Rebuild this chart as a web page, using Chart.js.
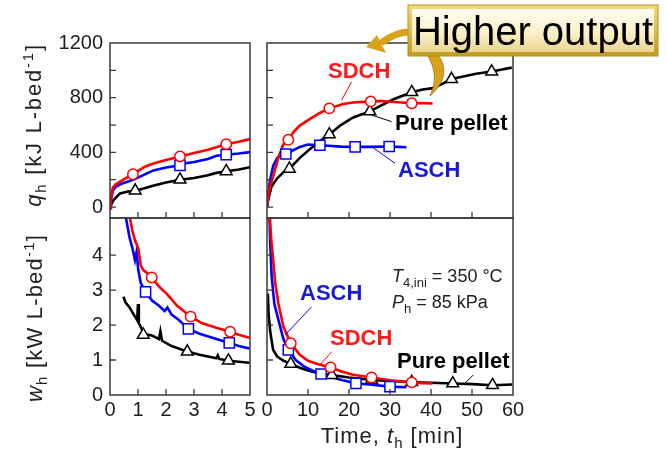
<!DOCTYPE html>
<html><head><meta charset="utf-8">
<script src="https://cdn.jsdelivr.net/npm/chart.js@4.4.1/dist/chart.umd.min.js"></script>
<style>
html,body{margin:0;padding:0;background:#fff;}
#wrap{position:relative;width:667px;height:452px;overflow:hidden;background:#fff;}
canvas{position:absolute;left:0;top:0;}
svg{position:absolute;left:0;top:0;}
</style></head><body>
<div id="wrap">
<canvas id="cTL" width="667" height="452"></canvas>
<canvas id="cTR" width="667" height="452"></canvas>
<canvas id="cBL" width="667" height="452"></canvas>
<canvas id="cBR" width="667" height="452"></canvas>
<svg id="ov" width="667" height="452" font-family="Liberation Sans, Arial, sans-serif">
  <defs>
    <linearGradient id="gOut" x1="0" y1="0" x2="0" y2="1">
      <stop offset="0" stop-color="#F6DC7A"/><stop offset="1" stop-color="#C29A22"/>
    </linearGradient>
    <linearGradient id="gIn" x1="0" y1="0" x2="0" y2="1">
      <stop offset="0" stop-color="#FFFEF4"/><stop offset="0.55" stop-color="#FBF1C8"/><stop offset="1" stop-color="#E9D590"/>
    </linearGradient>
  </defs>
  <!-- leader lines -->
  <line x1="351.7" y1="81.7" x2="341.7" y2="100" stroke="#ff0000" stroke-width="1"/>
  <line x1="391.7" y1="121.7" x2="371.7" y2="115" stroke="#000" stroke-width="1"/>
  <line x1="395" y1="163.3" x2="371.7" y2="146.7" stroke="#0000ff" stroke-width="1"/>
  <line x1="311.7" y1="306.7" x2="285" y2="335" stroke="#0000ff" stroke-width="1"/>
  <line x1="331.7" y1="351.7" x2="320" y2="365" stroke="#ff0000" stroke-width="1"/>
  <line x1="473.3" y1="375" x2="465" y2="383.3" stroke="#000" stroke-width="1"/>
  <!-- series labels -->
  <g font-weight="bold" font-size="22">
    <text x="328" y="78" fill="#ff1a1a">SDCH</text>
    <text x="395" y="130" fill="#000">Pure pellet</text>
    <text x="398" y="177" fill="#1a1ad6">ASCH</text>
    <text x="300" y="300" fill="#1a1ad6">ASCH</text>
    <text x="330" y="345" fill="#ff1a1a">SDCH</text>
    <text x="397" y="368" fill="#000">Pure pellet</text>
  </g>
  <!-- conditions -->
  <text x="392" y="282" font-size="18" fill="#222"><tspan font-style="italic">T</tspan><tspan font-size="13" dy="5">4,ini</tspan><tspan dy="-5"> = 350 °C</tspan></text>
  <text x="392" y="308" font-size="18" fill="#222"><tspan font-style="italic">P</tspan><tspan font-size="13" dy="5">h</tspan><tspan dy="-5"> = 85 kPa</tspan></text>
  <!-- axis titles -->
  <text transform="translate(41,125) rotate(-90)" text-anchor="middle" font-size="22" letter-spacing="1.8" fill="#222"><tspan font-style="italic">q</tspan><tspan font-size="15" dy="5">h</tspan><tspan dy="-5"> [kJ L-bed</tspan><tspan font-size="15" dy="-8">-1</tspan><tspan dy="8">]</tspan></text>
  <text transform="translate(42,318) rotate(-90)" text-anchor="middle" font-size="22" letter-spacing="1.2" fill="#222"><tspan font-style="italic">w</tspan><tspan font-size="15" dy="5">h</tspan><tspan dy="-5"> [kW L-bed</tspan><tspan font-size="15" dy="-8">-1</tspan><tspan dy="8">]</tspan></text>
  <text x="392" y="443" text-anchor="middle" font-size="22" letter-spacing="1" fill="#222">Time, <tspan font-style="italic">t</tspan><tspan font-size="15" dy="5">h</tspan><tspan dy="-5"> [min]</tspan></text>
  <!-- arrows -->
  <path d="M 409 32 Q 396 32 381 43" stroke="#D9A21B" stroke-width="7" fill="none"/>
  <polygon points="366,47 377,35 386,53" fill="#D9A21B"/>
  <path d="M 428 56 L 439 56 Q 452 76 430 96 Q 440 76 428 56 Z" fill="#D9A21B" stroke="#9a7410" stroke-width="0.8"/>
  <!-- callout box -->
  <rect x="408" y="5" width="250" height="51" fill="url(#gOut)" stroke="#B8901E" stroke-width="1"/>
  <rect x="412" y="9" width="242" height="43" fill="url(#gIn)"/>
  <text x="533" y="45" text-anchor="middle" font-size="40" fill="#000">Higher output</text>
</svg>
</div>
<script>
// ---- tick labels / tick marks ----
const tShortTicks = [0, 1, 2, 3, 4, 5];
const tLongTicks = [0, 10, 20, 30, 40, 50, 60];
const qTicks = [0, 400, 800, 1200];
const wTicks = [0, 1, 2, 3, 4];
const qMinor = [0, 200, 400, 600, 800, 1000];
const wMinor = [1, 2, 3, 4];
const tShortMinor = [1, 2, 3, 4];
const tLongMinor = [10, 20, 30, 40, 50];

// ---- heat output q_h [kJ/L-bed], first 5 min ----
const sdchQShort = [[0,-10],[0.03,60],[0.1,140],[0.2,165],[0.35,185],[0.55,210],[0.82,240],[1.0,265],[1.25,295],[1.55,318],[2.0,345],[2.5,370],[3.0,395],[3.5,420],[4.15,460],[4.6,478],[5.0,497]];
const aschQShort = [[0,-5],[0.03,50],[0.1,120],[0.2,148],[0.4,170],[0.6,184],[0.82,200],[1.0,215],[1.3,245],[1.55,268],[2.0,290],[2.5,305],[2.7,320],[3.0,330],[3.5,352],[3.8,375],[4.15,383],[4.6,392],[5.0,402]];
const pureQShort = [[0,0],[0.12,50],[0.36,100],[0.6,112],[0.9,120],[1.2,135],[1.6,160],[2.0,180],[2.5,200],[3.0,212],[3.5,232],[3.8,250],[4.15,262],[4.6,275],[5.0,291]];
const sdchQShortMk = [[0.82,240],[2.5,370],[4.15,460]];
const aschQShortMk = [[2.5,305],[4.15,383]];
const pureQShortMk = [[0.9,120],[2.5,200],[4.15,262]];

// ---- heat output q_h, full run ----
const sdchQLong = [[0,0],[0.3,80],[0.7,150],[1.5,225],[2.8,365],[4.0,460],[5.2,492],[6.5,550],[8,596],[10.5,645],[13,690],[15.2,722],[18.6,754],[21,765],[25.3,773],[28,776],[31,768],[35.3,759],[38,760],[40.4,757]];
const aschQLong = [[0,0],[0.3,90],[0.7,190],[1.5,300],[2.5,360],[3.5,380],[4.6,388],[6,410],[8,440],[10,458],[12.9,452],[15,448],[18,442],[21.5,440],[25,440],[29.8,443],[32,440],[34,438]];
const pureQLong = [[0,0],[0.3,55],[1.1,150],[2.5,210],[4,255],[5.45,280],[8,360],[10.5,425],[13,485],[15.2,531],[18,600],[21,655],[25.1,700],[28,745],[31,790],[35.3,840],[38,860],[40.5,870],[43,905],[45,936],[48.7,960],[51,975],[54.8,991],[57,1005],[59.7,1020]];
const sdchQLongMk = [[5.2,492],[15.2,722],[25.3,773],[35.3,759]];
const aschQLongMk = [[4.6,388],[12.9,452],[21.5,440],[29.8,443]];
const pureQLongMk = [[5.45,280],[15.2,531],[25.1,700],[35.3,840],[45,936],[54.8,991]];

// ---- heat output rate w_h [kW/L-bed], first 5 min ----
const sdchWShort = [[0.71,5.06],[0.8,4.7],[0.9,4.4],[1.01,4.19],[1.1,3.7],[1.19,3.57],[1.3,3.5],[1.49,3.36],[1.75,3.1],[2.02,2.9],[2.4,2.55],[2.88,2.24],[3.3,2.05],[3.8,1.92],[4.29,1.81],[4.6,1.72],[4.98,1.64]];
const aschWShort = [[0.57,5.06],[0.7,4.5],[0.8,4.2],[0.89,3.86],[0.95,4.1],[1.01,3.57],[1.1,3.2],[1.27,2.95],[1.5,2.7],[1.75,2.55],[1.95,2.4],[2.05,2.5],[2.2,2.3],[2.45,2.15],[2.8,1.89],[3.2,1.75],[3.6,1.65],[4.0,1.55],[4.26,1.49],[4.6,1.4],[4.98,1.33]];
const pureWShort = [[0.48,2.81],[0.55,2.65],[0.7,2.5],[0.85,2.3],[0.97,2.14],[1.0,2.6],[1.03,2.05],[1.13,1.9],[1.19,1.75],[1.5,1.7],[1.75,1.6],[1.8,1.82],[1.86,1.55],[2.2,1.4],[2.76,1.24],[3.2,1.15],[3.8,1.05],[3.85,1.13],[3.9,1.03],[4.23,0.98],[4.6,0.95],[4.98,0.92]];
const sdchWShortMk = [[1.49,3.36],[2.88,2.24],[4.29,1.81]];
const aschWShortMk = [[1.27,2.95],[2.8,1.89],[4.26,1.49]];
const pureWShortMk = [[1.19,1.72],[2.76,1.24],[4.23,0.98]];

// ---- heat output rate w_h, full run ----
const sdchWLong = [[0.73,5.06],[1.0,4.5],[1.5,3.86],[2.0,3.2],[2.8,2.6],[4,1.95],[5.8,1.48],[8,1.15],[10,0.98],[12.5,0.88],[15.5,0.79],[18,0.68],[21,0.58],[25.5,0.5],[30,0.42],[35.3,0.36],[38,0.34],[40.4,0.33]];
const aschWLong = [[0.6,5.06],[0.8,4.3],[1.14,3.38],[1.8,2.6],[2.8,2.14],[4,1.6],[5.2,1.29],[7,1.0],[9,0.82],[11,0.7],[13.2,0.6],[16,0.5],[18.5,0.42],[21.7,0.33],[25,0.3],[30,0.24],[34,0.22]];
const pureWLong = [[0,2.5],[0.2,2.9],[0.4,2.3],[0.8,1.8],[1.5,1.29],[2.5,1.1],[4,0.98],[5.8,0.89],[8,0.78],[10,0.7],[12.5,0.62],[15.8,0.57],[20,0.5],[25.5,0.43],[30,0.4],[35,0.37],[40,0.35],[45.3,0.33],[50,0.31],[55,0.28],[59.8,0.3]];
const sdchWLongMk = [[5.8,1.48],[15.5,0.79],[25.5,0.5],[35.3,0.36]];
const aschWLongMk = [[5.2,1.29],[13.2,0.6],[21.7,0.33],[30,0.24]];
const pureWLongMk = [[5.8,0.89],[15.8,0.57],[25.5,0.43],[35.3,0.37],[45.3,0.33],[55,0.28]];

const RED = '#ff0000', BLUE = '#0000ff', BLACK = '#000000';
const FONT = 'Liberation Sans, Arial, sans-serif';
const W = 667, H = 452;

const framePlugin = {
  id: 'frame',
  afterDatasetsDraw(chart, args, o) {
    const {ctx, chartArea: a, scales} = chart;
    ctx.save();
    ctx.strokeStyle = '#3a3a3a';
    ctx.lineWidth = 1.5;
    ctx.strokeRect(a.left, a.top, a.right - a.left, a.bottom - a.top);
    ctx.lineWidth = 1.3;
    ctx.beginPath();
    (o.xIn || []).forEach(v => { const x = scales.x.getPixelForValue(v); ctx.moveTo(x, a.bottom); ctx.lineTo(x, a.bottom - 6); });
    (o.yIn || []).forEach(v => { const y = scales.y.getPixelForValue(v); ctx.moveTo(a.left, y); ctx.lineTo(a.left + 6, y); });
    ctx.stroke();
    ctx.restore();
  }
};

function pts(arr) { return arr.map(([x, y]) => ({x, y})); }
function lineDs(arr, color) {
  return {data: pts(arr), showLine: true, borderColor: color, borderWidth: 2.6, pointRadius: 0, fill: false, tension: 0};
}
function mkDs(arr, color, style) {
  const r = style === 'circle' ? 5.2 : (style === 'rect' ? 7.2 : 6.8);
  return {data: pts(arr), showLine: false, pointStyle: style, pointRadius: r, pointBorderWidth: 1.5,
    borderColor: color, backgroundColor: '#ffffff', pointBackgroundColor: '#ffffff', pointBorderColor: color};
}

function panel(id, area, xr, yr, xLabels, yLabels, xIn, yIn, series) {
  const tickFont = {family: FONT, size: 20};
  const xScale = {type: 'linear', min: xr[0], max: xr[1],
    display: !!xLabels, grid: {display: false, drawTicks: false}, border: {display: false},
    ticks: {font: tickFont, color: '#1e1e1e', padding: 3, autoSkip: false, maxRotation: 0, callback: v => String(v)},
    afterBuildTicks: s => { if (xLabels) s.ticks = xLabels.map(v => ({value: v})); },
    afterFit: s => { if (xLabels) s.height = H - area.b; }
  };
  const yScale = {type: 'linear', min: yr[0], max: yr[1],
    display: !!yLabels, grid: {display: false, drawTicks: false}, border: {display: false},
    ticks: {font: tickFont, color: '#1e1e1e', padding: 7, autoSkip: false, callback: v => String(v)},
    afterBuildTicks: s => { if (yLabels) s.ticks = yLabels.map(v => ({value: v})); },
    afterFit: s => { if (yLabels) s.width = area.l; }
  };
  const padding = {
    left: yLabels ? 0 : area.l,
    top: area.t,
    right: W - area.r,
    bottom: xLabels ? 0 : H - area.b
  };
  const ds = [
    mkDs(series.sdchMk, RED, 'circle'),
    mkDs(series.aschMk, BLUE, 'rect'),
    mkDs(series.pureMk, BLACK, 'triangle'),
    lineDs(series.sdch, RED),
    lineDs(series.asch, BLUE),
    lineDs(series.pure, BLACK)
  ];
  return new Chart(document.getElementById(id), {
    type: 'scatter',
    data: {datasets: ds},
    options: {
      responsive: false, animation: false, devicePixelRatio: 1,
      layout: {padding},
      scales: {x: xScale, y: yScale},
      plugins: {legend: {display: false}, tooltip: {enabled: false}, frame: {xIn, yIn}}
    },
    plugins: [framePlugin]
  });
}

panel('cTL', {l: 110, t: 43, r: 250, b: 218}, [0, 5], [-80, 1200], null, qTicks, tShortMinor, qMinor,
  {sdch: sdchQShort, asch: aschQShort, pure: pureQShort, sdchMk: sdchQShortMk, aschMk: aschQShortMk, pureMk: pureQShortMk});
panel('cTR', {l: 267, t: 43, r: 513, b: 218}, [0, 60], [-80, 1200], null, null, tLongMinor, qMinor,
  {sdch: sdchQLong, asch: aschQLong, pure: pureQLong, sdchMk: sdchQLongMk, aschMk: aschQLongMk, pureMk: pureQLongMk});
panel('cBL', {l: 110, t: 218, r: 250, b: 395}, [0, 5], [0, 5.06], tShortTicks, wTicks, tShortMinor, wMinor,
  {sdch: sdchWShort, asch: aschWShort, pure: pureWShort, sdchMk: sdchWShortMk, aschMk: aschWShortMk, pureMk: pureWShortMk});
panel('cBR', {l: 267, t: 218, r: 513, b: 395}, [0, 60], [0, 5.06], tLongTicks, null, tLongMinor, wMinor,
  {sdch: sdchWLong, asch: aschWLong, pure: pureWLong, sdchMk: sdchWLongMk, aschMk: aschWLongMk, pureMk: pureWLongMk});
</script>
</body></html>
